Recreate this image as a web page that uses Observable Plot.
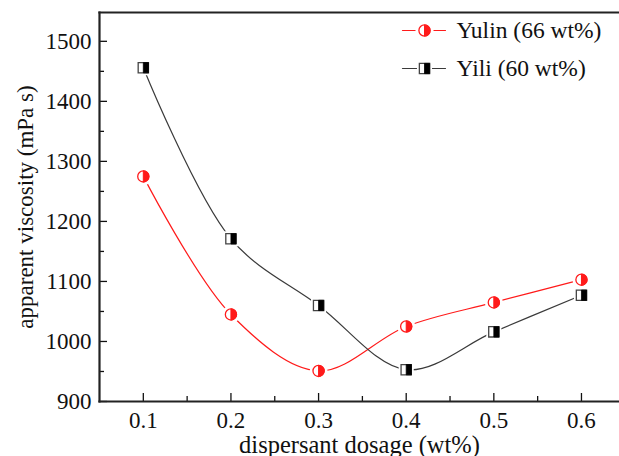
<!DOCTYPE html>
<html><head><meta charset="utf-8">
<script src="https://cdn.jsdelivr.net/npm/d3@7"></script>
<script src="https://cdn.jsdelivr.net/npm/@observablehq/plot@0.6"></script>
<style>
body{margin:0;background:#fff}
#chart svg text{font-family:"Liberation Serif","Times New Roman",serif !important;}
</style>
</head><body><div id="chart"></div>
<script>
const dosage = [0.1, 0.2, 0.3, 0.4, 0.5, 0.6];
const yulin = [1275, 1045, 951, 1025, 1065, 1103];
const yili = [1456, 1171, 1060, 953, 1016, 1077];
const seriesNames = ["Yulin (66 wt%)", "Yili (60 wt%)"];
const xTicks = [0.1, 0.2, 0.3, 0.4, 0.5, 0.6];
const xMinor = [0.15, 0.25, 0.35, 0.45, 0.55];
const yTicks = [900, 1000, 1100, 1200, 1300, 1400, 1500];
const yMinor = [950, 1050, 1150, 1250, 1350, 1450];
const xLabel = "dispersant dosage (wt%)";
const yLabel = "apparent viscosity (mPa s)";

const red = "#ff1a1a", dark = "#3a3a3a";
const dataYulin = dosage.map((x, i) => ({x, y: yulin[i]}));
const dataYili = dosage.map((x, i) => ({x, y: yili[i]}));

const halfCircle = {draw(ctx, size) { const r = Math.sqrt(size / Math.PI); ctx.moveTo(0, -r); ctx.arc(0, 0, r, -Math.PI / 2, Math.PI / 2); ctx.closePath(); }};
const halfSquare = {draw(ctx, size) { const s = Math.sqrt(size) / 2; ctx.rect(0, -s, s, 2 * s); }};
const segShape = {draw(ctx, l) { ctx.moveTo(0, 0); ctx.lineTo(0, -l); }};

function circleMarker(data, opts) {
  return [
    Plot.dot(data, {...opts, r: 9, fill: "white", stroke: "none"}),
    Plot.dot(data, {...opts, r: 5.6, fill: "white", stroke: red, strokeWidth: 1.3}),
    Plot.dot(data, {...opts, r: 5.6, symbol: halfCircle, fill: red, stroke: red, strokeWidth: 1})
  ];
}
function squareMarker(data, opts) {
  return [
    Plot.dot(data, {...opts, r: 8.5, symbol: "square", fill: "white", stroke: "none"}),
    Plot.dot(data, {...opts, r: 5.8, symbol: "square", fill: "white", stroke: "#444", strokeWidth: 1.3}),
    Plot.dot(data, {...opts, r: 5.8, symbol: halfSquare, fill: "#000", stroke: "#000", strokeWidth: 0.8})
  ];
}

const FF = "Liberation Serif";
const FS = 23;
const chart = Plot.plot({
  width: 619, height: 456,
  marginLeft: 99, marginRight: 0, marginTop: 12, marginBottom: 55,
  style: {fontFamily: FF, fontSize: FS + "px", color: "#111", background: "white"},
  x: {domain: [0.05, 0.6434], label: null, axis: null},
  y: {domain: [900, 1548], label: null, axis: null},
  marks: [
    Plot.line(dataYulin, {x: "x", y: "y", curve: "catmull-rom", stroke: red, strokeWidth: 1.2}),
    Plot.line(dataYili, {x: "x", y: "y", curve: "catmull-rom", stroke: dark, strokeWidth: 1.2}),
    ...circleMarker(dataYulin, {x: "x", y: "y"}),
    ...squareMarker(dataYili, {x: "x", y: "y"}),
    // axes
    Plot.axisY(yTicks, {tickSize: 0, tickPadding: 8, fontSize: FS, fontFamily: FF, tickFormat: d => String(d), label: null}),
    Plot.axisY(yTicks, {tickSize: 8, dx: 8, tickFormat: () => "", label: null, strokeWidth: 1.3}),
    Plot.axisY(yMinor, {tickSize: 5, dx: 5, tickFormat: () => "", label: null, strokeWidth: 1.3}),
    Plot.axisX(xTicks, {tickSize: 0, tickPadding: 10, fontSize: FS, fontFamily: FF, tickFormat: d => d.toFixed(1), label: null}),
    Plot.axisX(xTicks, {tickSize: 8, dy: -8, tickFormat: () => "", label: null, strokeWidth: 1.3}),
    Plot.axisX(xMinor, {tickSize: 5, dy: -5, tickFormat: () => "", label: null, strokeWidth: 1.3}),
    Plot.frame({anchor: "left", stroke: "#222", strokeWidth: 2.2}),
    Plot.frame({anchor: "bottom", stroke: "#222", strokeWidth: 2.2}),
    Plot.frame({anchor: "top", stroke: "#222", strokeWidth: 2.2}),
    Plot.text([xLabel], {text: d => d, frameAnchor: "bottom", dy: 44, lineAnchor: "middle", textAnchor: "middle", fontSize: 24.5, fontFamily: FF, fill: "#111"}),
    Plot.text([yLabel], {text: d => d, frameAnchor: "left", dx: -74, rotate: -90, lineAnchor: "middle", textAnchor: "middle", fontSize: FS, fontFamily: FF, fill: "#111"}),
    // legend
    Plot.vector([0], {frameAnchor: "top-left", dx: 303, dy: 18, rotate: 90, length: 43, anchor: "start", shape: segShape, stroke: red, strokeWidth: 1.2}),
    ...circleMarker([0], {frameAnchor: "top-left", dx: 325, dy: 18}),
    Plot.text([seriesNames[0]], {text: d => d, frameAnchor: "top-left", dx: 357, dy: 18, textAnchor: "start", lineAnchor: "middle", fontSize: 23.5, fontFamily: FF, fill: "#111"}),
    Plot.vector([0], {frameAnchor: "top-left", dx: 303, dy: 56, rotate: 90, length: 43, anchor: "start", shape: segShape, stroke: dark, strokeWidth: 1.2}),
    ...squareMarker([0], {frameAnchor: "top-left", dx: 325, dy: 56}),
    Plot.text([seriesNames[1]], {text: d => d, frameAnchor: "top-left", dx: 357, dy: 56, textAnchor: "start", lineAnchor: "middle", fontSize: 23.5, fontFamily: FF, fill: "#111"})
  ]
});
document.getElementById("chart").appendChild(chart);
</script>
</body></html>
